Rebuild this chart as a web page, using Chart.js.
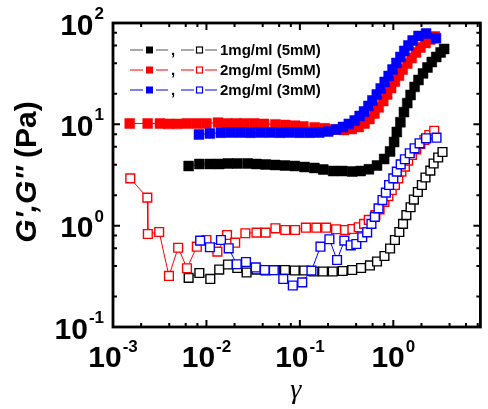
<!DOCTYPE html>
<html><head>
<meta charset="utf-8">
<title>G', G'' strain sweep</title>
<script src="https://cdn.jsdelivr.net/npm/chart.js@4"></script>
<style>
body  { margin:0; background:#ffffff; }
#wrap { width:488px; height:409px; }
</style>
<script>
// strain (x) and modulus (y)
const blackStorX=[0.00645,0.0084,0.0109,0.0137,0.017,0.0214,0.0276,0.0343,0.043,0.0543,0.0692,0.0881,0.112,0.143,0.178,0.227,0.285,0.363,0.447,0.548,0.669,0.798,0.923,1.02,1.09,1.19,1.3,1.41,1.53,1.69,1.86,2.08,2.32,2.58,2.88,3.21,3.5];
const blackStorY=[3.88,4.06,4.06,4.06,4.11,4.11,4.11,4.06,4.02,3.97,3.92,3.88,3.79,3.71,3.58,3.46,3.46,3.42,3.46,3.6,3.92,4.55,5.4,6.69,8.4,10.5,13.2,16.2,19.5,23.4,27.4,31.8,36.4,41.2,46.2,51.2,55.4];
const blackLossX=[0.00645,0.0084,0.011,0.0137,0.017,0.0214,0.0269,0.0343,0.043,0.0543,0.0692,0.0881,0.1115,0.14,0.177,0.225,0.287,0.363,0.452,0.562,0.669,0.804,0.923,1.04,1.16,1.27,1.38,1.53,1.66,1.83,2.02,2.21,2.49,2.7,3.02,3.36];
const blackLossY=[0.305,0.341,0.298,0.369,0.414,0.382,0.345,0.369,0.361,0.365,0.365,0.361,0.361,0.353,0.353,0.353,0.357,0.365,0.382,0.405,0.443,0.502,0.595,0.722,0.866,1.04,1.27,1.52,1.81,2.15,2.52,2.99,3.49,4.11,4.71,5.33];
const redStorX=[0.00151,0.00235,0.00318,0.00391,0.00486,0.00619,0.00789,0.01,0.0133,0.0167,0.0208,0.0255,0.0324,0.0413,0.0547,0.0697,0.0888,0.109,0.144,0.184,0.234,0.296,0.359,0.426,0.492,0.555,0.627,0.698,0.78,0.859,0.946,1.04,1.15,1.26,1.41,1.57,1.75,1.95,2.21,2.49,2.78];
const redStorY=[10.2,10.2,10.2,10.1,10.1,10.2,10.2,10.2,10.4,10.2,10.2,10.2,10.2,10.1,10.0,9.85,9.7,9.52,9.34,9.14,8.89,8.8,9.0,9.41,10.2,11.3,12.8,14.7,17.0,19.7,22.8,26.5,30.3,34.8,39.8,45.2,51.2,57.3,63.5,68.7,73.6];
const redLossX=[0.00153,0.00233,0.00236,0.00312,0.00397,0.00498,0.00619,0.00789,0.01,0.0131,0.0166,0.0203,0.0261,0.0343,0.043,0.0547,0.0697,0.0888,0.116,0.15,0.191,0.244,0.305,0.365,0.426,0.486,0.546,0.643,0.713,0.804,0.886,0.962,1.04,1.13,1.22,1.33,1.44,1.58,1.76,1.95,2.15,2.43,2.74];
const redLossY=[2.93,1.89,0.827,0.866,0.319,0.606,0.38,0.62,0.722,0.554,0.809,0.679,0.841,0.853,0.853,0.942,0.906,0.906,0.955,0.955,0.955,0.921,0.906,0.927,0.964,1.04,1.14,1.27,1.45,1.72,1.96,2.25,2.52,2.93,3.41,3.82,4.38,4.98,5.67,6.4,7.0,7.85,8.65];
const blueStorX=[0.00832,0.0109,0.0143,0.0183,0.0233,0.0296,0.0378,0.0481,0.0614,0.0781,0.0995,0.127,0.161,0.201,0.244,0.289,0.334,0.386,0.436,0.486,0.542,0.597,0.666,0.733,0.808,0.891,0.981,1.08,1.19,1.31,1.45,1.61,1.86,2.24,2.86];
const blueStorY=[7.94,8.12,8.27,8.3,8.3,8.27,8.3,8.3,8.27,8.3,8.27,8.27,8.3,8.5,8.89,9.41,10.1,10.9,12.1,13.4,15.2,17.2,19.7,22.6,26.2,30.0,34.8,40.3,46.2,53.0,60.0,67.2,74.5,78.8,70.7];
const blueLossX=[0.00857,0.0109,0.0143,0.0173,0.0211,0.0265,0.0337,0.0421,0.0526,0.0664,0.084,0.106,0.133,0.166,0.207,0.25,0.299,0.35,0.402,0.465,0.525,0.583,0.634,0.695,0.766,0.832,0.901,1.0,1.09,1.2,1.33,1.5,1.69,1.91,2.24,2.9];
const blueLossY=[0.711,0.612,0.722,0.598,0.416,0.438,0.387,0.365,0.363,0.298,0.257,0.276,0.36,0.62,0.734,0.458,0.711,0.64,0.659,0.768,0.86,1.04,1.22,1.48,1.79,2.12,2.52,2.93,3.41,4.03,4.52,5.18,5.8,6.5,7.28,7.38];

const seriesNames=["1mg/ml (5mM)","2mg/ml (5mM)","2mg/ml (3mM)"];
const xTickExp=[-3,-2,-1,0];
const yTickExp=[-1,0,1,2];
const minorMult=[2,4,6,8];

const BLACK="#000000", RED="#ff0000", BLUE="#0000ff";
const FONT='"Liberation Sans",Arial,sans-serif';

function pts(xs,ys) { return xs.map(function(v,i){ return {x:v,y:ys[i]}; }); }

function solid(c,lc,xs,ys) {
  return {data:pts(xs,ys),borderColor:lc,borderWidth:1,pointStyle:'rect',pointRadius:7,
    pointBackgroundColor:c,pointBorderColor:c,pointBorderWidth:0.5,showLine:true,tension:0}; }
function hollow(c,lc,xs,ys) {
  return {data:pts(xs,ys),borderColor:lc,borderWidth:1,pointStyle:'rect',pointRadius:6.2,
    pointBackgroundColor:'#ffffff',pointBorderColor:c,pointBorderWidth:1.4,showLine:true,tension:0}; }

function drawPow(ctx,exp,left,base,sup) {
  ctx.font='bold 30px '+FONT; ctx.textAlign='left'; ctx.textBaseline='alphabetic';
  ctx.fillText('10',left,base);
  var w=ctx.measureText('10').width;
  ctx.font='bold 17px '+FONT;
  ctx.fillText(String(exp),left+w+1,sup); }

function powWidth(ctx,exp) {
  ctx.font='bold 30px '+FONT; var w=ctx.measureText('10').width;
  ctx.font='bold 17px '+FONT; return w+1+ctx.measureText(String(exp)).width; }

const framePlugin={id:'frame',afterDraw:function(chart) {
  var ctx=chart.ctx, a=chart.chartArea, xs=chart.scales.x, ys=chart.scales.y;
  ctx.save(); ctx.strokeStyle='#000'; ctx.fillStyle='#000'; ctx.lineWidth=2;
  function tx(v,len) { var p=xs.getPixelForValue(v); ctx.beginPath();
    ctx.moveTo(p,a.bottom); ctx.lineTo(p,a.bottom-len); ctx.moveTo(p,a.top); ctx.lineTo(p,a.top+len); ctx.stroke(); }
  function ty(v,len) { var p=ys.getPixelForValue(v); ctx.beginPath();
    ctx.moveTo(a.left,p); ctx.lineTo(a.left+len,p); ctx.moveTo(a.right,p); ctx.lineTo(a.right-len,p); ctx.stroke(); }
  xTickExp.forEach(function(e) { tx(Math.pow(10,e),7);
    minorMult.forEach(function(m){ var v=m*Math.pow(10,e); if (v<xs.max) tx(v,4); }); });
  yTickExp.forEach(function(e) { ty(Math.pow(10,e),7);
    if (e<yTickExp[yTickExp.length-1]) minorMult.forEach(function(m){ ty(m*Math.pow(10,e),4); }); });
  ctx.lineWidth=2.8; ctx.strokeRect(a.left,a.top,a.right-a.left,a.bottom-a.top);

  // tick labels
  xTickExp.forEach(function(e) { var p=xs.getPixelForValue(Math.pow(10,e));
    var w=powWidth(ctx,e); drawPow(ctx,e,p-w/2,a.bottom+40,a.bottom+25); });
  yTickExp.forEach(function(e) { var p=ys.getPixelForValue(Math.pow(10,e));
    var w=powWidth(ctx,e); drawPow(ctx,e,a.left-9-w,p+11.5,p-4); });

  // axis titles
  ctx.save(); ctx.translate(36,172); ctx.rotate(-Math.PI/2);
  ctx.font='italic bold 30px '+FONT; var t1="G',G''"; var w1=ctx.measureText(t1).width;
  ctx.font='bold 30px '+FONT; var t2=" (Pa)"; var w2=ctx.measureText(t2).width;
  ctx.textAlign='left'; ctx.textBaseline='alphabetic';
  ctx.font='italic bold 30px '+FONT; ctx.fillText(t1,-(w1+w2)/2,0);
  ctx.font='bold 30px '+FONT; ctx.fillText(t2,-(w1+w2)/2+w1,0);
  ctx.restore();
  ctx.font='italic 28px "Liberation Serif","Times New Roman",serif'; ctx.textAlign='center';
  ctx.fillText('\u03b3',(a.left+a.right)/2-1,a.bottom+71);

  // legend
  var cols=[BLACK,RED,BLUE], lcols=['#555555',RED,BLUE];
  seriesNames.forEach(function(name,i) {
    var yy=a.top+27+i*20;
    ctx.strokeStyle=lcols[i]; ctx.lineWidth=1.2; ctx.beginPath();
    ctx.moveTo(130,yy); ctx.lineTo(143,yy); ctx.moveTo(156,yy); ctx.lineTo(168,yy);
    ctx.moveTo(181,yy); ctx.lineTo(194,yy); ctx.moveTo(205,yy); ctx.lineTo(217,yy); ctx.stroke();
    ctx.fillStyle=cols[i]; ctx.fillRect(146,yy-3.5,7,7);
    ctx.strokeStyle=cols[i]; ctx.lineWidth=1.2; ctx.strokeRect(196.5,yy-3,6,6);
    ctx.fillStyle='#000'; ctx.font='bold 15px '+FONT; ctx.textAlign='left'; ctx.textBaseline='middle';
    ctx.fillText(',',171,yy+1); ctx.fillText(name,220,yy+1); });
  ctx.restore(); }};

function initChart() {
  var data={datasets:[
    solid(BLUE,BLUE,blueStorX,blueStorY),
    solid(RED,RED,redStorX,redStorY),
    solid(BLACK,'#444444',blackStorX,blackStorY),
    hollow(BLUE,BLUE,blueLossX,blueLossY),
    hollow(RED,RED,redLossX,redLossY),
    hollow(BLACK,'#444444',blackLossX,blackLossY)]};
  var config={type:'line',data:data,plugins:[framePlugin],options:{
    responsive:true,maintainAspectRatio:false,animation:false,
    layout:{padding:{left:113,right:1,top:23,bottom:82}},
    scales:{
      x:{type:'logarithmic',min:0.001,max:8.55,display:false},
      y:{type:'logarithmic',min:0.1,max:100,display:false}},
    plugins:{legend:{display:false},tooltip:{enabled:false}}}};
  new Chart(document.getElementById('chart'),config); }
</script>
</head>
<body onload="initChart();">
<div id="wrap"><canvas id="chart"></canvas></div>
</body></html>
